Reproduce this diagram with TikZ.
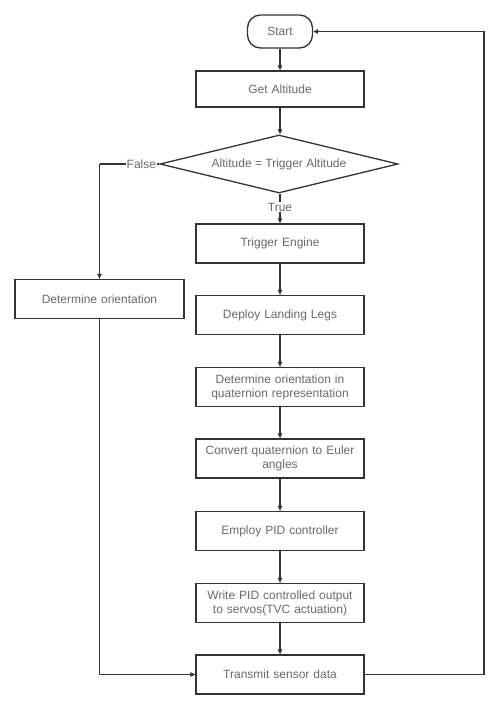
\documentclass[tikz,border=0pt]{standalone}
\usepackage{fontspec}
\setmainfont{Liberation Sans}
\usetikzlibrary{arrows.meta,shapes.geometric}
\definecolor{linec}{HTML}{333333}
\definecolor{textc}{HTML}{6A6A6A}
\begin{document}
\begin{tikzpicture}[x=1pt,y=-1pt,
  every node/.style={font=\fontsize{12}{14}\selectfont, text=textc},
  box/.style={draw=linec, line width=1.3pt, minimum width=168pt, minimum height=39pt, align=center, inner sep=1pt, text width=164pt},
  term/.style={draw=linec, line width=1.3pt, rounded corners=13pt, minimum width=65pt, minimum height=33pt},
  dec/.style={draw=linec, line width=1.3pt, diamond, aspect=4.1, minimum width=238pt, minimum height=58pt, inner sep=0pt},
  lbl/.style={fill=white, inner sep=1pt},
  conn/.style={draw=linec, line width=1.1pt, -{Triangle[length=5pt,width=4.5pt]}},
  plain/.style={draw=linec, line width=1.1pt}]
\useasboundingbox (0,0) rectangle (500,710);
\fill[white] (0,0) rectangle (500,710);
\node[term] (start) at (280,31.5) {Start};
\node[box, minimum height=36pt] (alt) at (280,89) {Get Altitude};
\node[dec] (dec) at (279,164) {Altitude = Trigger Altitude};
\node[box] (trig) at (280,243.5) {Trigger Engine};
\node[box] (legs) at (280,315) {Deploy Landing Legs};
\node[box] (quat) at (280,387) {Determine orientation in\\quaternion representation};
\node[box] (euler) at (280,458.5) {Convert quaternion to Euler\\angles};
\node[box] (pid) at (280,531) {Employ PID controller};
\node[box] (servo) at (280,603) {Write PID controlled output\\to servos(TVC actuation)};
\node[box] (tx) at (280,674.5) {Transmit sensor data};
\node[box, minimum width=169pt] (orient) at (99.5,299) {Determine orientation};
\coordinate (fl) at (99.5,164);
\coordinate (br) at (484,674.5);
\coordinate (tr) at (484,31.5);
\coordinate (bl) at (99.5,674.5);
\draw[conn] (start) -- (alt);
\draw[conn] (alt) -- (alt |- dec.north);
\draw[conn] (alt |- dec.south) -- node[lbl, pos=0.45] (ttrue) {True} (trig);
\draw[plain] (dec.west) -- node[lbl, pos=0.3] (tfalse) {False} (fl);
\draw[conn] (fl) -- (orient.north);
\draw[conn] (trig) -- (legs);
\draw[conn] (legs) -- (quat);
\draw[conn] (quat) -- (euler);
\draw[conn] (euler) -- (pid);
\draw[conn] (pid) -- (servo);
\draw[conn] (servo) -- (tx);
\draw[conn] (orient.south) -- (bl) -- (tx.west);
\draw[conn] (tx.east) -- (br) -- (tr) -- (start.east);
\end{tikzpicture}
\end{document}
